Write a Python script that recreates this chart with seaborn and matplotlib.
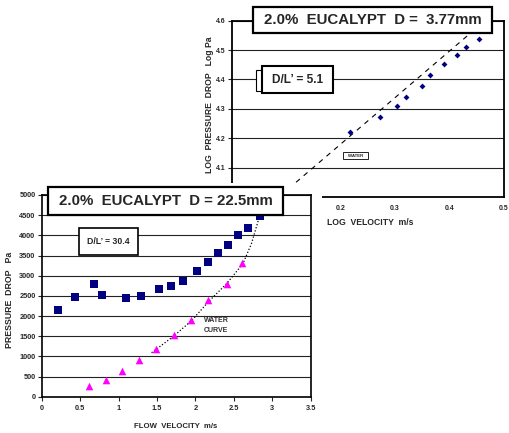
import numpy as np
import pandas as pd
import matplotlib
matplotlib.use("Agg")
import matplotlib.pyplot as plt
from matplotlib.patches import Rectangle
import seaborn as sns

# ---------------- data ----------------
# Main chart: 2.0% eucalypt, D = 22.5 mm
pulp_velocity = [0.21, 0.43, 0.685, 0.79, 1.095, 1.29, 1.525, 1.685, 1.835, 2.02,
                 2.16, 2.295, 2.43, 2.55, 2.69, 2.84]
pulp_pressure = [2150, 2480, 2800, 2520, 2455, 2505, 2670, 2750, 2875, 3125,
                 3345, 3560, 3760, 4015, 4180, 4490]
water_velocity = [0.62, 0.84, 1.05, 1.265, 1.49, 1.72, 1.945, 2.165, 2.415, 2.61]
water_pressure = [275, 415, 635, 910, 1190, 1535, 1890, 2395, 2800, 3315]
curve_velocity = [1.43, 1.71, 1.95, 2.17, 2.41, 2.62, 2.73, 2.82, 2.86]
curve_pressure = [1090, 1490, 1885, 2355, 2810, 3305, 3800, 4380, 4540]
main_xticks = [0, 0.5, 1, 1.5, 2, 2.5, 3, 3.5]
main_xticklabels = ["0", "0.5", "1", "1.5", "2", "2.5", "3", "3.5"]
main_yticks = [0, 500, 1000, 1500, 2000, 2500, 3000, 3500, 4000, 4500, 5000]

# Inset: 2.0% eucalypt, D = 3.77 mm (log-log)
log_velocity = [0.217, 0.273, 0.303, 0.320, 0.349, 0.364, 0.391, 0.414, 0.431, 0.455]
log_pressure = [4.221, 4.271, 4.308, 4.342, 4.377, 4.416, 4.453, 4.482, 4.509, 4.539]
water_log_velocity = [0.09, 0.466]
water_log_pressure = [4.006, 4.600]
# ticks whose labels are visible (the others are hidden behind the main chart)
inset_xticks = [0.2, 0.3, 0.4, 0.5]
inset_xticklabels = ["0.2", "0.3", "0.4", "0.5"]
inset_yticks = [4.1, 4.2, 4.3, 4.4, 4.5, 4.6]
inset_yticklabels = ["4.1", "4.2", "4.3", "4.4", "4.5", "4.6"]

# ---------------- style ----------------
sns.set_style("white")
plt.rcParams['font.family'] = ['Liberation Sans', 'DejaVu Sans']
plt.rcParams['font.weight'] = 'bold'

W, H = 509, 433
def fx(x):
    return x / W
def fy(y):
    return 1 - y / H

fig = plt.figure(figsize=(W / 100, H / 100), dpi=100)
fig.patch.set_facecolor('white')

NAVY = '#000080'
PINK = '#FF00FF'
GRID = '#222222'

# ---------------- inset axes ----------------
ax2 = fig.add_axes([fx(232), fy(197), (503.5 - 232) / W, (197 - 20.7) / H])
ax2.set_zorder(0)
sns.lineplot(x=water_log_velocity, y=water_log_pressure, ax=ax2, color='black',
             linewidth=0.8, linestyle=(0, (4.5, 4.5)), sort=False, estimator=None)
sns.scatterplot(x=log_velocity, y=log_pressure, ax=ax2, marker='D', s=9,
                color=NAVY, linewidth=0, zorder=3)
ax2.set_xlim(0, 0.5)
ax2.set_ylim(4.0, 4.6)
ax2.set_xticks(inset_xticks)
ax2.set_xticklabels(inset_xticklabels)
ax2.set_yticks(inset_yticks)
ax2.set_yticklabels(inset_yticklabels)
ax2.yaxis.grid(True, color=GRID, linewidth=0.8)
ax2.xaxis.grid(False)
ax2.set_axisbelow(True)
for sp in ax2.spines.values():
    sp.set_visible(True)
    sp.set_color('black')
    sp.set_linewidth(1.3)
ax2.tick_params(axis='y', direction='out', length=3, width=0.8, pad=1.5,
                labelsize=5, left=True)
ax2.tick_params(axis='x', length=0, pad=6, labelsize=5)
for lab in ax2.get_xticklabels() + ax2.get_yticklabels():
    lab.set_fontweight('bold')
ax2.set_xlabel('')
ax2.set_ylabel('')

# white background of main chart covering the inset's lower-left
fig.add_artist(Rectangle((0, 0), fx(322), 1 - 182.5 / H, transform=fig.transFigure,
                         facecolor='white', edgecolor='none', zorder=1))

# ---------------- main axes ----------------
ax1 = fig.add_axes([fx(41.7), fy(396.7), 269 / W, 201.7 / H])
ax1.set_zorder(2)
sns.lineplot(x=curve_velocity, y=curve_pressure, ax=ax1, color='black',
             linewidth=0.9, linestyle=(0, (1, 1.6)), sort=False, estimator=None)
sns.scatterplot(x=pulp_velocity, y=pulp_pressure, ax=ax1, marker='s', s=28,
                color=NAVY, linewidth=0, zorder=3)
sns.scatterplot(x=water_velocity, y=water_pressure, ax=ax1, marker='^', s=30,
                color=PINK, linewidth=0, zorder=3)
ax1.set_xlim(0, 3.5)
ax1.set_ylim(0, 5000)
ax1.set_xticks(main_xticks)
ax1.set_xticklabels(main_xticklabels)
ax1.set_yticks(main_yticks)
ax1.set_yticklabels([str(v) for v in main_yticks])
ax1.yaxis.grid(True, color=GRID, linewidth=0.8)
ax1.xaxis.grid(False)
ax1.set_axisbelow(True)
for sp in ax1.spines.values():
    sp.set_visible(True)
    sp.set_color('black')
    sp.set_linewidth(1.2)
ax1.tick_params(axis='both', direction='out', length=3, width=0.8, labelsize=5.3,
                left=True, bottom=True)
ax1.tick_params(axis='y', pad=1.5)
ax1.tick_params(axis='x', pad=3)
for lab in ax1.get_xticklabels() + ax1.get_yticklabels():
    lab.set_fontweight('bold')
ax1.set_xlabel('')
ax1.set_ylabel('')

# ---------------- boxes & annotations ----------------
def box(x0, y0, x1, y1, lw, z=5):
    fig.add_artist(Rectangle((fx(x0), fy(y1)), (x1 - x0) / W, (y1 - y0) / H,
                             transform=fig.transFigure, facecolor='white',
                             edgecolor='black', linewidth=lw, zorder=z))

def label(x, y, s, size, z=6, **kw):
    t = fig.text(fx(x), fy(y), s, fontsize=size, fontweight='bold',
                 ha=kw.pop('ha', 'center'), va=kw.pop('va', 'center'), **kw)
    t.set_zorder(z)
    return t

# inset boxes
box(253, 7, 492, 33, 1.6)
label(372.5, 20.5, '2.0%  EUCALYPT  D =  3.77mm', 10.8)
box(256, 70, 262, 91, 0.8)
box(262, 66, 333, 93, 1.5)
label(297.5, 80, 'D/L’ = 5.1', 8.6)
box(343, 152, 368, 159, 0.6)
label(355.5, 155.7, 'WATER', 3.2)
label(210, 105, 'LOG  PRESSURE  DROP   Log Pa', 6.2, rotation=90)
label(370, 223, 'LOG  VELOCITY  m/s', 6.2)

# main chart boxes
box(48, 187, 283, 215, 1.6)
label(165.5, 201.5, '2.0%  EUCALYPT  D = 22.5mm', 10.8)
box(79, 228, 138, 255, 1.2)
label(108.5, 241.5, 'D/L’ = 30.4', 6.3)
label(204, 320.5, 'WATER', 5, ha='left', color='#333333')
label(204, 330.5, 'CURVE', 5, ha='left', color='#333333')
label(10, 300, 'PRESSURE  DROP   Pa', 6.3, rotation=90)
label(176, 427, 'FLOW  VELOCITY  m/s', 5.6)

fig.savefig('out.png', dpi=100, facecolor='white')
